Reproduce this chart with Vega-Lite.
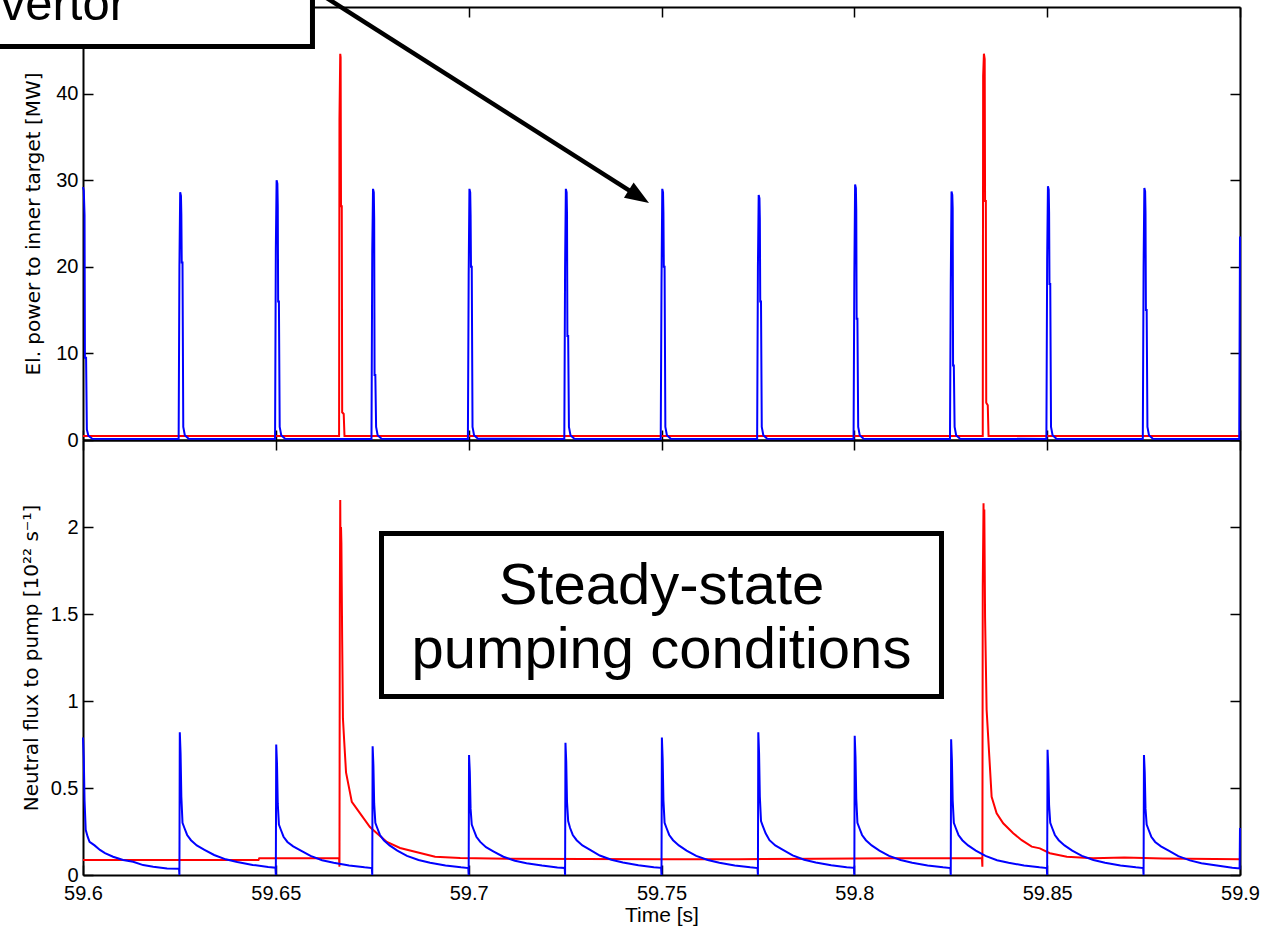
{
  "$schema": "https://vega.github.io/schema/vega-lite/v6.json",
  "autosize": {"type": "none"},
  "width": 1157,
  "height": 868,
  "padding": {"left": 83, "top": 7, "right": 34, "bottom": 53},
  "background": "white",
  "config": {
    "view": {"stroke": null},
    "axis": {
      "domainColor": "black", "domainWidth": 2, "tickColor": "black", "tickWidth": 1.5, "tickSize": -10,
      "labelColor": "black", "labelFont": "Liberation Sans", "labelFontSize": 20,
      "titleColor": "black", "titleFont": "DejaVu Sans", "titleFontSize": 20, "titleFontWeight": "normal",
      "grid": false, "labelFlush": false, "labelOverlap": false
    }
  },
  "datasets": {
    "topRed": [
      {"t":59.6,"v":0.45},{"t":59.6664,"v":0.45},{"t":59.6665,"v":37},{"t":59.6667,"v":44.6},{"t":59.6668,"v":44.2},{"t":59.6669,"v":27},{"t":59.6671,"v":27},{"t":59.6672,"v":3.2},{"t":59.6676,"v":3},{"t":59.6678,"v":0.45},
      {"t":59.8333,"v":0.45},{"t":59.8334,"v":42},{"t":59.8336,"v":44.6},{"t":59.8338,"v":44},{"t":59.8339,"v":27.6},{"t":59.8341,"v":27.6},{"t":59.8342,"v":4.3},{"t":59.8346,"v":4},{"t":59.8348,"v":0.45},{"t":59.9,"v":0.45}
    ],
    "topBlue": [
      {"t":59.6,"v":29.2},{"t":59.6002,"v":28.8},{"t":59.6004,"v":26},{"t":59.6005,"v":9.5},{"t":59.6008,"v":9.5},{"t":59.601,"v":1.2},{"t":59.6014,"v":0.5},{"t":59.6024,"v":0.15},
      {"t":59.6248,"v":0.12},{"t":59.625,"v":20},{"t":59.6252,"v":28.6},{"t":59.6254,"v":28.2},{"t":59.6255,"v":26},{"t":59.6256,"v":20.5},{"t":59.6258,"v":20.5},{"t":59.626,"v":1.5},{"t":59.6264,"v":0.55},{"t":59.6274,"v":0.15},
      {"t":59.6498,"v":0.12},{"t":59.65,"v":22},{"t":59.6502,"v":30},{"t":59.6504,"v":29.6},{"t":59.6505,"v":27},{"t":59.6506,"v":16},{"t":59.6508,"v":16},{"t":59.651,"v":1.5},{"t":59.6514,"v":0.55},{"t":59.6524,"v":0.15},
      {"t":59.6748,"v":0.12},{"t":59.675,"v":21.7},{"t":59.6752,"v":29},{"t":59.6754,"v":28.6},{"t":59.6755,"v":25.6},{"t":59.6756,"v":7.5},{"t":59.6758,"v":7.5},{"t":59.676,"v":1.5},{"t":59.6764,"v":0.55},{"t":59.6774,"v":0.15},
      {"t":59.6998,"v":0.12},{"t":59.7,"v":19},{"t":59.7002,"v":29},{"t":59.7004,"v":28.6},{"t":59.7005,"v":26},{"t":59.7006,"v":20},{"t":59.7008,"v":20},{"t":59.701,"v":1.5},{"t":59.7014,"v":0.55},{"t":59.7024,"v":0.15},
      {"t":59.7248,"v":0.12},{"t":59.725,"v":20},{"t":59.7252,"v":29},{"t":59.7254,"v":28.6},{"t":59.7255,"v":26},{"t":59.7256,"v":12},{"t":59.7258,"v":12},{"t":59.726,"v":1.5},{"t":59.7264,"v":0.55},{"t":59.7274,"v":0.15},
      {"t":59.7498,"v":0.12},{"t":59.75,"v":18},{"t":59.7502,"v":29},{"t":59.7504,"v":28.6},{"t":59.7505,"v":26.3},{"t":59.7506,"v":20},{"t":59.7508,"v":20},{"t":59.751,"v":1.5},{"t":59.7514,"v":0.55},{"t":59.7524,"v":0.15},
      {"t":59.7748,"v":0.12},{"t":59.775,"v":20},{"t":59.7752,"v":28.3},{"t":59.7754,"v":27.9},{"t":59.7755,"v":25.5},{"t":59.7756,"v":16},{"t":59.7758,"v":16},{"t":59.776,"v":1.5},{"t":59.7764,"v":0.55},{"t":59.7774,"v":0.15},
      {"t":59.7998,"v":0.12},{"t":59.8,"v":19},{"t":59.8002,"v":29.5},{"t":59.8004,"v":29.1},{"t":59.8005,"v":26.5},{"t":59.8006,"v":14},{"t":59.8008,"v":14},{"t":59.801,"v":1.5},{"t":59.8014,"v":0.55},{"t":59.8024,"v":0.15},
      {"t":59.8248,"v":0.12},{"t":59.825,"v":18},{"t":59.8252,"v":28.7},{"t":59.8254,"v":28.3},{"t":59.8255,"v":26.8},{"t":59.8256,"v":8.6},{"t":59.8258,"v":8.6},{"t":59.826,"v":1.5},{"t":59.8264,"v":0.55},{"t":59.8274,"v":0.15},
      {"t":59.8498,"v":0.12},{"t":59.85,"v":21},{"t":59.8502,"v":29.3},{"t":59.8504,"v":28.9},{"t":59.8505,"v":26.3},{"t":59.8506,"v":18},{"t":59.8508,"v":18},{"t":59.851,"v":1.5},{"t":59.8514,"v":0.55},{"t":59.8524,"v":0.15},
      {"t":59.8748,"v":0.12},{"t":59.875,"v":20},{"t":59.8752,"v":29.1},{"t":59.8754,"v":28.7},{"t":59.8755,"v":26.2},{"t":59.8756,"v":15},{"t":59.8758,"v":15},{"t":59.876,"v":1.5},{"t":59.8764,"v":0.55},{"t":59.8774,"v":0.15},
      {"t":59.8998,"v":0.12},{"t":59.9,"v":23.5}
    ],
    "botRed": [
      {"t":59.6,"v":0.086},{"t":59.6455,"v":0.086},{"t":59.6457,"v":0.096},{"t":59.6664,"v":0.096},{"t":59.6665,"v":0.048},{"t":59.6666,"v":1.58},{"t":59.6667,"v":2.155},{"t":59.6668,"v":1.7},{"t":59.6669,"v":2.0},{"t":59.667,"v":1.91},{"t":59.6672,"v":1.35},{"t":59.6674,"v":0.9},{"t":59.6677,"v":0.78},{"t":59.6682,"v":0.59},{"t":59.6697,"v":0.42},{"t":59.6718,"v":0.356},{"t":59.6744,"v":0.276},{"t":59.6762,"v":0.24},{"t":59.6788,"v":0.19},{"t":59.6822,"v":0.155},{"t":59.6874,"v":0.126},{"t":59.6913,"v":0.105},{"t":59.6978,"v":0.098},{"t":59.71,"v":0.094},{"t":59.73,"v":0.092},{"t":59.75,"v":0.09},{"t":59.77,"v":0.091},{"t":59.79,"v":0.094},{"t":59.81,"v":0.096},
      {"t":59.8331,"v":0.096},{"t":59.8332,"v":0.048},{"t":59.8333,"v":1.66},{"t":59.8335,"v":2.136},{"t":59.8336,"v":1.7},{"t":59.8337,"v":2.1},{"t":59.8339,"v":1.48},{"t":59.8343,"v":0.95},{"t":59.835,"v":0.68},{"t":59.8356,"v":0.45},{"t":59.8369,"v":0.355},{"t":59.8386,"v":0.297},{"t":59.8412,"v":0.24},{"t":59.8434,"v":0.2},{"t":59.846,"v":0.163},{"t":59.8481,"v":0.153},{"t":59.8507,"v":0.125},{"t":59.8551,"v":0.105},{"t":59.8619,"v":0.096},{"t":59.87,"v":0.1},{"t":59.88,"v":0.095},{"t":59.9,"v":0.09}
    ],
    "botBlue": [
      {"t":59.6,"v":0.79},{"t":59.6002,"v":0.67},{"t":59.6004,"v":0.43},{"t":59.6007,"v":0.26},{"t":59.6012,"v":0.22},{"t":59.6017,"v":0.19},{"t":59.603,"v":0.17},{"t":59.6044,"v":0.144},{"t":59.6057,"v":0.126},{"t":59.6078,"v":0.105},{"t":59.6104,"v":0.086},{"t":59.613,"v":0.076},{"t":59.6156,"v":0.057},{"t":59.6182,"v":0.048},{"t":59.6218,"v":0.038},{"t":59.6249,"v":0.036},
      {"t":59.625,"v":0},{"t":59.6251,"v":0.82},{"t":59.6253,"v":0.70},{"t":59.6255,"v":0.45},{"t":59.6258,"v":0.30},{"t":59.6263,"v":0.27},{"t":59.627,"v":0.23},{"t":59.628,"v":0.20},{"t":59.6295,"v":0.17},{"t":59.6315,"v":0.145},{"t":59.634,"v":0.115},{"t":59.637,"v":0.09},{"t":59.64,"v":0.075},{"t":59.644,"v":0.058},{"t":59.648,"v":0.046},{"t":59.6499,"v":0.042},
      {"t":59.65,"v":0},{"t":59.6501,"v":0.75},{"t":59.6503,"v":0.64},{"t":59.6505,"v":0.41},{"t":59.6508,"v":0.29},{"t":59.6513,"v":0.26},{"t":59.652,"v":0.22},{"t":59.653,"v":0.19},{"t":59.6545,"v":0.165},{"t":59.6565,"v":0.14},{"t":59.659,"v":0.11},{"t":59.662,"v":0.085},{"t":59.665,"v":0.07},{"t":59.669,"v":0.055},{"t":59.673,"v":0.044},{"t":59.6749,"v":0.04},
      {"t":59.675,"v":0},{"t":59.6751,"v":0.74},{"t":59.6753,"v":0.63},{"t":59.6755,"v":0.41},{"t":59.6758,"v":0.3},{"t":59.6763,"v":0.27},{"t":59.677,"v":0.23},{"t":59.678,"v":0.2},{"t":59.6795,"v":0.17},{"t":59.6815,"v":0.14},{"t":59.684,"v":0.11},{"t":59.687,"v":0.086},{"t":59.69,"v":0.07},{"t":59.694,"v":0.055},{"t":59.698,"v":0.044},{"t":59.6999,"v":0.04},
      {"t":59.7,"v":0},{"t":59.7001,"v":0.69},{"t":59.7003,"v":0.59},{"t":59.7005,"v":0.38},{"t":59.7008,"v":0.29},{"t":59.7013,"v":0.26},{"t":59.702,"v":0.22},{"t":59.703,"v":0.19},{"t":59.7045,"v":0.16},{"t":59.7065,"v":0.135},{"t":59.709,"v":0.105},{"t":59.712,"v":0.082},{"t":59.715,"v":0.068},{"t":59.719,"v":0.054},{"t":59.723,"v":0.043},{"t":59.7249,"v":0.04},
      {"t":59.725,"v":0},{"t":59.7251,"v":0.76},{"t":59.7253,"v":0.65},{"t":59.7255,"v":0.42},{"t":59.7258,"v":0.31},{"t":59.7263,"v":0.27},{"t":59.727,"v":0.23},{"t":59.728,"v":0.2},{"t":59.7295,"v":0.17},{"t":59.7315,"v":0.145},{"t":59.734,"v":0.112},{"t":59.737,"v":0.088},{"t":59.74,"v":0.072},{"t":59.744,"v":0.056},{"t":59.748,"v":0.045},{"t":59.7499,"v":0.041},
      {"t":59.75,"v":0},{"t":59.7501,"v":0.79},{"t":59.7503,"v":0.67},{"t":59.7505,"v":0.43},{"t":59.7508,"v":0.3},{"t":59.7513,"v":0.27},{"t":59.752,"v":0.23},{"t":59.753,"v":0.2},{"t":59.7545,"v":0.17},{"t":59.7565,"v":0.14},{"t":59.759,"v":0.11},{"t":59.762,"v":0.086},{"t":59.765,"v":0.07},{"t":59.769,"v":0.055},{"t":59.773,"v":0.044},{"t":59.7749,"v":0.04},
      {"t":59.775,"v":0},{"t":59.7751,"v":0.82},{"t":59.7753,"v":0.7},{"t":59.7755,"v":0.45},{"t":59.7758,"v":0.31},{"t":59.7763,"v":0.28},{"t":59.777,"v":0.24},{"t":59.778,"v":0.2},{"t":59.7795,"v":0.17},{"t":59.7815,"v":0.145},{"t":59.784,"v":0.113},{"t":59.787,"v":0.088},{"t":59.79,"v":0.072},{"t":59.794,"v":0.056},{"t":59.798,"v":0.045},{"t":59.7999,"v":0.041},
      {"t":59.8,"v":0},{"t":59.8001,"v":0.8},{"t":59.8003,"v":0.68},{"t":59.8005,"v":0.44},{"t":59.8008,"v":0.3},{"t":59.8013,"v":0.27},{"t":59.802,"v":0.23},{"t":59.803,"v":0.2},{"t":59.8045,"v":0.17},{"t":59.8065,"v":0.14},{"t":59.809,"v":0.11},{"t":59.812,"v":0.086},{"t":59.815,"v":0.07},{"t":59.819,"v":0.055},{"t":59.823,"v":0.044},{"t":59.8249,"v":0.04},
      {"t":59.825,"v":0},{"t":59.8251,"v":0.78},{"t":59.8253,"v":0.66},{"t":59.8255,"v":0.43},{"t":59.8258,"v":0.3},{"t":59.8263,"v":0.27},{"t":59.827,"v":0.23},{"t":59.828,"v":0.2},{"t":59.8295,"v":0.17},{"t":59.8315,"v":0.14},{"t":59.834,"v":0.11},{"t":59.837,"v":0.085},{"t":59.84,"v":0.07},{"t":59.844,"v":0.055},{"t":59.848,"v":0.044},{"t":59.8499,"v":0.04},
      {"t":59.85,"v":0},{"t":59.8501,"v":0.72},{"t":59.8503,"v":0.61},{"t":59.8505,"v":0.4},{"t":59.8508,"v":0.3},{"t":59.8513,"v":0.27},{"t":59.852,"v":0.23},{"t":59.853,"v":0.2},{"t":59.8545,"v":0.17},{"t":59.8565,"v":0.14},{"t":59.859,"v":0.11},{"t":59.862,"v":0.086},{"t":59.865,"v":0.07},{"t":59.869,"v":0.055},{"t":59.873,"v":0.044},{"t":59.8749,"v":0.04},
      {"t":59.875,"v":0},{"t":59.8751,"v":0.69},{"t":59.8753,"v":0.59},{"t":59.8755,"v":0.38},{"t":59.8758,"v":0.29},{"t":59.8763,"v":0.26},{"t":59.877,"v":0.22},{"t":59.878,"v":0.19},{"t":59.8795,"v":0.165},{"t":59.8815,"v":0.14},{"t":59.884,"v":0.108},{"t":59.887,"v":0.084},{"t":59.89,"v":0.068},{"t":59.894,"v":0.054},{"t":59.898,"v":0.042},{"t":59.8999,"v":0.038},
      {"t":59.9,"v":0.27}
    ],
    "boxBottom": [{"t1":59.6774,"t2":59.8226,"v1":1.0259,"v2":1.9626}],
    "boxTop": [{"t1":59.55,"t2":59.6595,"v1":45.44,"v2":60}],
    "textBottom": [{"t":59.75,"v":1.5575,"label":"Steady-state"},{"t":59.75,"v":1.19,"label":"pumping conditions"}],
    "textTop": [{"t":59.61115,"v":48.5,"label":"vertor"}],
    "arrow": [{"t1":59.65627,"v1":53.0,"t2":59.74414,"v2":28.1}]
  },
  "layer": [
    {
      "data": {"name": "topRed"},
      "mark": {"type": "line", "color": "#ff0000", "strokeWidth": 2},
      "encoding": {
        "x": {"field": "t", "type": "quantitative", "scale": {"domain": [59.6, 59.9], "nice": false, "zero": false},
              "axis": {"orient": "bottom", "offset": -435, "values": [59.6,59.65,59.7,59.75,59.8,59.85,59.9], "labels": false, "title": null}},
        "y": {"field": "v", "type": "quantitative", "scale": {"domain": [0, 50], "range": [433, 0], "nice": false, "zero": false},
              "axis": {"orient": "left", "values": [0,10,20,30,40], "format": ".6~g", "title": "El. power to inner target [MW]", "labelPadding": 15, "titlePadding": 12}}
      }
    },
    {
      "data": {"name": "topBlue"},
      "mark": {"type": "line", "color": "#0000ff", "strokeWidth": 2},
      "encoding": {
        "x": {"field": "t", "type": "quantitative", "scale": {"domain": [59.6, 59.9], "nice": false, "zero": false},
              "axis": {"orient": "top", "values": [59.6,59.65,59.7,59.75,59.8,59.85,59.9], "labels": false, "title": null}},
        "y": {"field": "v", "type": "quantitative", "scale": {"domain": [0, 50], "range": [433, 0], "nice": false, "zero": false},
              "axis": {"orient": "right", "values": [0,10,20,30,40], "labels": false, "title": null}}
      }
    },
    {
      "data": {"name": "botRed"},
      "mark": {"type": "line", "color": "#ff0000", "strokeWidth": 2},
      "encoding": {
        "x": {"field": "t", "type": "quantitative", "scale": {"domain": [59.6, 59.9], "nice": false, "zero": false},
              "axis": {"orient": "bottom", "values": [59.6,59.65,59.7,59.75,59.8,59.85,59.9], "format": ".6~g", "title": "Time [s]", "titleFont": "Liberation Sans", "titleFontSize": 21, "labelPadding": 18, "titlePadding": 1}},
        "y": {"field": "v", "type": "quantitative", "scale": {"domain": [0, 2.5], "range": [868, 433], "nice": false, "zero": false},
              "axis": {"orient": "left", "values": [0,0.5,1,1.5,2], "format": ".6~g", "title": "Neutral flux to pump [10²² s⁻¹]", "labelPadding": 15, "titlePadding": 9}}
      }
    },
    {
      "data": {"name": "botBlue"},
      "mark": {"type": "line", "color": "#0000ff", "strokeWidth": 2},
      "encoding": {
        "x": {"field": "t", "type": "quantitative", "scale": {"domain": [59.6, 59.9], "nice": false, "zero": false},
              "axis": {"orient": "top", "offset": -433, "values": [59.6,59.65,59.7,59.75,59.8,59.85,59.9], "labels": false, "title": null}},
        "y": {"field": "v", "type": "quantitative", "scale": {"domain": [0, 2.5], "range": [868, 433], "nice": false, "zero": false},
              "axis": {"orient": "right", "values": [0,0.5,1,1.5,2], "labels": false, "title": null}}
      }
    },
    {
      "data": {"name": "boxBottom"},
      "mark": {"type": "rect", "fill": "white", "stroke": "black", "strokeWidth": 5},
      "encoding": {
        "x": {"field": "t1", "type": "quantitative", "scale": {"domain": [59.6, 59.9], "nice": false, "zero": false}, "axis": null},
        "x2": {"field": "t2"},
        "y": {"field": "v1", "type": "quantitative", "scale": {"domain": [0, 2.5], "range": [868, 433], "nice": false, "zero": false}, "axis": null},
        "y2": {"field": "v2"}
      }
    },
    {
      "data": {"name": "boxTop"},
      "mark": {"type": "rect", "fill": "white", "stroke": "black", "strokeWidth": 5},
      "encoding": {
        "x": {"field": "t1", "type": "quantitative", "scale": {"domain": [59.6, 59.9], "nice": false, "zero": false}, "axis": null},
        "x2": {"field": "t2"},
        "y": {"field": "v1", "type": "quantitative", "scale": {"domain": [0, 50], "range": [433, 0], "nice": false, "zero": false}, "axis": null},
        "y2": {"field": "v2"}
      }
    },
    {
      "data": {"name": "textBottom"},
      "mark": {"type": "text", "font": "Liberation Sans", "fontSize": 58, "color": "black", "align": "center", "baseline": "alphabetic"},
      "encoding": {
        "x": {"field": "t", "type": "quantitative", "scale": {"domain": [59.6, 59.9], "nice": false, "zero": false}, "axis": null},
        "y": {"field": "v", "type": "quantitative", "scale": {"domain": [0, 2.5], "range": [868, 433], "nice": false, "zero": false}, "axis": null},
        "text": {"field": "label"}
      }
    },
    {
      "data": {"name": "textTop"},
      "mark": {"type": "text", "font": "Liberation Sans", "fontSize": 49, "color": "black", "align": "right", "baseline": "alphabetic"},
      "encoding": {
        "x": {"field": "t", "type": "quantitative", "scale": {"domain": [59.6, 59.9], "nice": false, "zero": false}, "axis": null},
        "y": {"field": "v", "type": "quantitative", "scale": {"domain": [0, 50], "range": [433, 0], "nice": false, "zero": false}, "axis": null},
        "text": {"field": "label"}
      }
    },
    {
      "data": {"name": "arrow"},
      "mark": {"type": "rule", "color": "black", "strokeWidth": 4.5},
      "encoding": {
        "x": {"field": "t1", "type": "quantitative", "scale": {"domain": [59.6, 59.9], "nice": false, "zero": false}, "axis": null},
        "x2": {"field": "t2"},
        "y": {"field": "v1", "type": "quantitative", "scale": {"domain": [0, 50], "range": [433, 0], "nice": false, "zero": false}, "axis": null},
        "y2": {"field": "v2"}
      }
    },
    {
      "data": {"name": "arrow"},
      "mark": {"type": "point", "shape": "M 1 0 L -1 -0.75 L -1 0.75 Z", "size": 576, "angle": 32.5, "filled": true, "color": "black", "opacity": 1},
      "encoding": {
        "x": {"field": "t2", "type": "quantitative", "scale": {"domain": [59.6, 59.9], "nice": false, "zero": false}, "axis": null},
        "y": {"field": "v2", "type": "quantitative", "scale": {"domain": [0, 50], "range": [433, 0], "nice": false, "zero": false}, "axis": null}
      }
    }
  ],
  "resolve": {"scale": {"y": "independent"}, "axis": {"x": "independent", "y": "independent"}}
}
